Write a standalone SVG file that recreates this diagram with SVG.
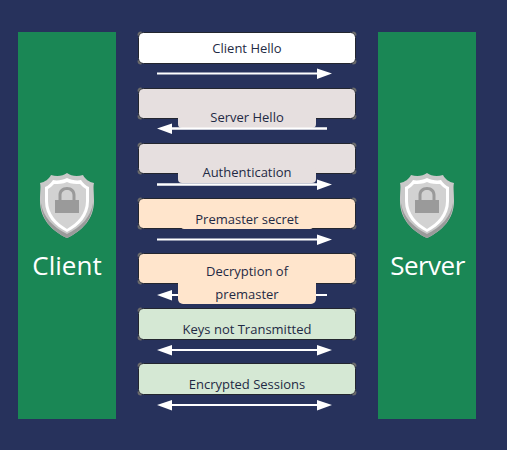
<svg xmlns="http://www.w3.org/2000/svg" width="507" height="450" viewBox="0 0 507 450">
<defs>
<style>
text{font-family:"Open Sans","Noto Sans",sans-serif;text-anchor:middle;fill:#1f2a44}
.l{font-size:13px}
.t{font-size:26px;fill:#fff}
.box{stroke:#23262f;stroke-width:1}
.a{stroke:#fff;stroke-width:2;fill:none}
.h{fill:#fff}
</style>
<g id="shield">
<path d="M27 0C31 3 37 4 43 2C45 6 49 9 54 10C53 14 54 18 54 28C54 46 42 58 27 65C12 58 0 46 0 28C0 18 1 14 0 10C5 9 9 6 11 2C17 4 23 3 27 0Z" fill="#c9c9c9"/>
<path d="M27 61C13 54 3 44 1 30C1 46 12 58 27 65C42 58 53 46 53 30C51 44 41 54 27 61Z" fill="#9a9a9a"/>
<path d="M27 5C31 7 37 8 41 7C43 10 46 13 49 14V28C49 43 39 53 27 59C15 53 5 43 5 28V14C8 13 11 10 13 7C17 8 23 7 27 5Z" fill="#fff"/>
<path d="M27 9C31 11 36 11 40 11C42 13 44 15 46 16V28C46 41 37 50 27 56C17 50 8 41 8 28V16C10 15 12 13 14 11C18 11 23 11 27 9Z" fill="#d2d2d2"/>
<path d="M15 27H18.500V22C18.500 17 22 14 27 14C32 14 35.500 17 35.500 22V27H39V40H15ZM21.500 27H32.500V22C32.500 19 30 17 27 17C24 17 21.500 19 21.500 22Z" fill="#9a9a9a" fill-rule="evenodd"/>
</g>
<path id="corners" d="M0 3V2.500Q0 0 2.500 0H3M214 0H214.500Q217 0 217 2.500V3M217 27V27.500Q217 30 214.500 30H214M3 30H2.500Q0 30 0 27.500V27" fill="none" stroke="#6b6b6b" stroke-width="2"/>
<path id="corners31" d="M0 3V2.500Q0 0 2.500 0H3M214 0H214.500Q217 0 217 2.500V3M217 28V28.500Q217 31 214.500 31H214M3 31H2.500Q0 31 0 28.500V28" fill="none" stroke="#6b6b6b" stroke-width="2"/>
</defs>
<rect width="507" height="450" fill="#27325c"/>
<g id="client">
<rect x="18" y="32" width="98" height="387" fill="#1a8755"/>
<use href="#shield" x="40" y="173"/>
<text class="t" x="67" y="275">Client</text>
</g>
<g id="server">
<rect x="378" y="32" width="98" height="387" fill="#1a8755"/>
<use href="#shield" x="400" y="173"/>
<text class="t" x="427.500" y="275" letter-spacing="-0.500">Server</text>
</g>
<g id="connectors">
<path class="a" d="M157 73.500H320"/><path class="h" d="M317 68.500L332 73.500L317 79Z"/>
<path class="a" d="M170 128.500H327"/><path class="h" d="M172 123.500L157 128.500L172 134Z"/>
<path class="a" d="M157 184.500H320"/><path class="h" d="M317 179.500L332 184.500L317 190Z"/>
<path class="a" d="M157 239.500H320"/><path class="h" d="M317 234.500L332 239.500L317 245Z"/>
<path class="a" d="M170 295H327"/><path class="h" d="M172 290L157 295L172 300.500Z"/>
<path class="a" d="M170 350H320"/><path class="h" d="M317 345L332 350L317 355.500Z"/><path class="h" d="M172 345L157 350L172 355.500Z"/>
<path class="a" d="M170 405H320"/><path class="h" d="M317 400L332 405L317 410.500Z"/><path class="h" d="M172 400L157 405L172 410.500Z"/>
</g>
<g id="n1"><rect class="box" x="138.500" y="32.500" width="217" height="31" rx="5" fill="#fff"/><use href="#corners31" x="138.500" y="32.500"/><text class="l" x="247" y="52.500">Client Hello</text></g>
<g id="n2"><rect class="box" x="138.500" y="88.500" width="217" height="30" rx="5" fill="#e6dfdf"/><use href="#corners" x="138.500" y="88.500"/><rect x="178" y="110" width="138" height="18" rx="4" fill="#e6dfdf"/><path class="a" d="M170 128.500H327"/><text class="l" x="247" y="122">Server Hello</text></g>
<g id="n3"><rect class="box" x="138.500" y="143.500" width="217" height="30" rx="5" fill="#e6dfdf"/><use href="#corners" x="138.500" y="143.500"/><rect x="178" y="165" width="138" height="18" rx="4" fill="#e6dfdf"/><path class="a" d="M157 184.500H320"/><text class="l" x="247" y="177">Authentication</text></g>
<g id="n4"><rect class="box" x="138.500" y="198.500" width="217" height="30" rx="5" fill="#ffe5cc"/><use href="#corners" x="138.500" y="198.500"/><rect x="181" y="220" width="132" height="9" rx="3" fill="#ffe5cc"/><text class="l" x="247" y="223.500">Premaster secret</text></g>
<g id="n5"><rect class="box" x="138.500" y="253.500" width="217" height="30" rx="5" fill="#ffe5cc"/><use href="#corners" x="138.500" y="253.500"/><rect x="178" y="275" width="138" height="29" rx="5" fill="#ffe5cc"/><text class="l" x="247" y="276">Decryption of</text><text class="l" x="247" y="299">premaster</text></g>
<g id="n6"><rect class="box" x="138.500" y="308.500" width="217" height="31" rx="5" fill="#d5e8d4"/><use href="#corners31" x="138.500" y="308.500"/><text class="l" x="247" y="333.500">Keys not Transmitted</text></g>
<g id="n7"><rect class="box" x="138.500" y="363.500" width="217" height="31" rx="5" fill="#d5e8d4"/><use href="#corners31" x="138.500" y="363.500"/><text class="l" x="247" y="389">Encrypted Sessions</text></g>
</svg>
